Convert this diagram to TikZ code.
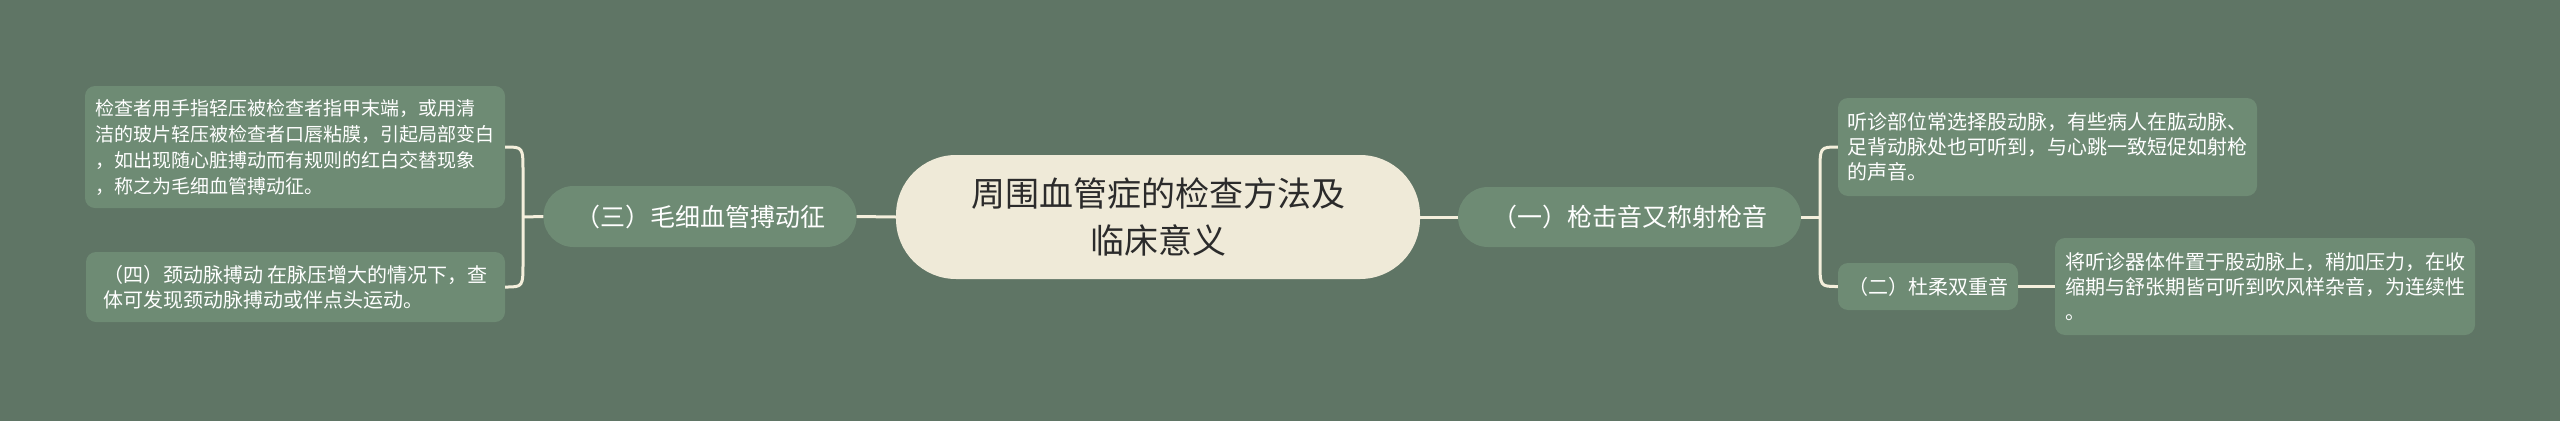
\documentclass[tikz,border=0pt]{standalone}
\usepackage{fontspec}
\newfontfamily\cjk{Noto Sans CJK SC}
\usetikzlibrary{calc}
\definecolor{bgc}{HTML}{5F7565}
\definecolor{nodec}{HTML}{6E8B74}
\definecolor{centerc}{HTML}{EFEAD8}
\definecolor{linec}{HTML}{F4EFDC}
\definecolor{darktext}{HTML}{2B2B2B}
\tikzset{
  conn/.style={draw=linec, line width=3pt},
  leafbox/.style={fill=nodec, rounded corners=10pt, inner sep=0pt, align=left,
    text=white, font=\cjk\fontsize{20pt}{25pt}\selectfont, anchor=center},
  pillbox/.style={fill=nodec, rounded corners=30pt, inner sep=0pt, align=center,
    text=white, font=\cjk\fontsize{25pt}{30pt}\selectfont, anchor=center},
  smallbox/.style={fill=nodec, rounded corners=10pt, inner sep=0pt, align=center,
    text=white, font=\cjk\fontsize{20pt}{25pt}\selectfont, anchor=center},
  rootbox/.style={fill=centerc, rounded corners=60pt, inner sep=0pt, align=center,
    text=darktext, font=\cjk\fontsize{34pt}{47pt}\selectfont, anchor=center},
}
\begin{document}
\begin{tikzpicture}[x=1pt,y=-1pt]
\fill[bgc] (0,0) rectangle (2560,421);
\useasboundingbox (0,0) rectangle (2560,421);

\node[rootbox, minimum width=524pt, minimum height=124pt] (root) at (1158,217)
  {周围血管症的检查方法及\\临床意义};

\node[pillbox, minimum width=313pt, minimum height=61pt] (tres) at (700,216.5)
  {（三）毛细血管搏动征};
\node[pillbox, minimum width=343pt, minimum height=60pt] (yi) at (1629.5,217)
  {（一）枪击音又称射枪音};

\node[leafbox, font=\cjk\fontsize{19pt}{26pt}\selectfont, minimum width=420pt, minimum height=122pt] (l1) at (295,147)
  {检查者用手指轻压被检查者指甲末端，或用清\\洁的玻片轻压被检查者口唇粘膜，引起局部变白\\，如出现随心脏搏动而有规则的红白交替现象\\，称之为毛细血管搏动征。};
\node[leafbox, minimum width=419pt, minimum height=70pt] (l2) at (295.5,287)
  {（四）颈动脉搏动 在脉压增大的情况下，查\\体可发现颈动脉搏动或伴点头运动。};

\node[leafbox, minimum width=419pt, minimum height=98pt] (r1) at (2047.5,147)
  {听诊部位常选择股动脉，有些病人在肱动脉、\\足背动脉处也可听到，与心跳一致短促如射枪\\的声音。};
\node[smallbox, minimum width=180pt, minimum height=47pt] (er) at (1928,286.5)
  {（二）杜柔双重音};
\node[leafbox, minimum width=420pt, minimum height=97pt] (r3) at (2265,286.5)
  {将听诊器体件置于股动脉上，稍加压力，在收\\缩期与舒张期皆可听到吹风样杂音，为连续性\\。};

\coordinate (jl) at (523,217);
\coordinate (jr) at (1820,217);

\draw[conn] (root.west) -- (tres.east);
\draw[conn] (root.east) -- (yi.west);
\draw[conn] (tres.west) -- (jl);
\draw[conn] (l1.east) .. controls (jl|-l1.east) .. ($(jl|-l1.east)+(0,25)$)
  -- ($(jl|-l2.east)-(0,25)$) .. controls (jl|-l2.east) .. (l2.east);
\draw[conn] (yi.east) -- (jr);
\draw[conn] (r1.west) .. controls (jr|-r1.west) .. ($(jr|-r1.west)+(0,25)$)
  -- ($(jr|-er.west)-(0,25)$) .. controls (jr|-er.west) .. (er.west);
\draw[conn] (er.east) -- (r3.west);
\end{tikzpicture}
\end{document}
